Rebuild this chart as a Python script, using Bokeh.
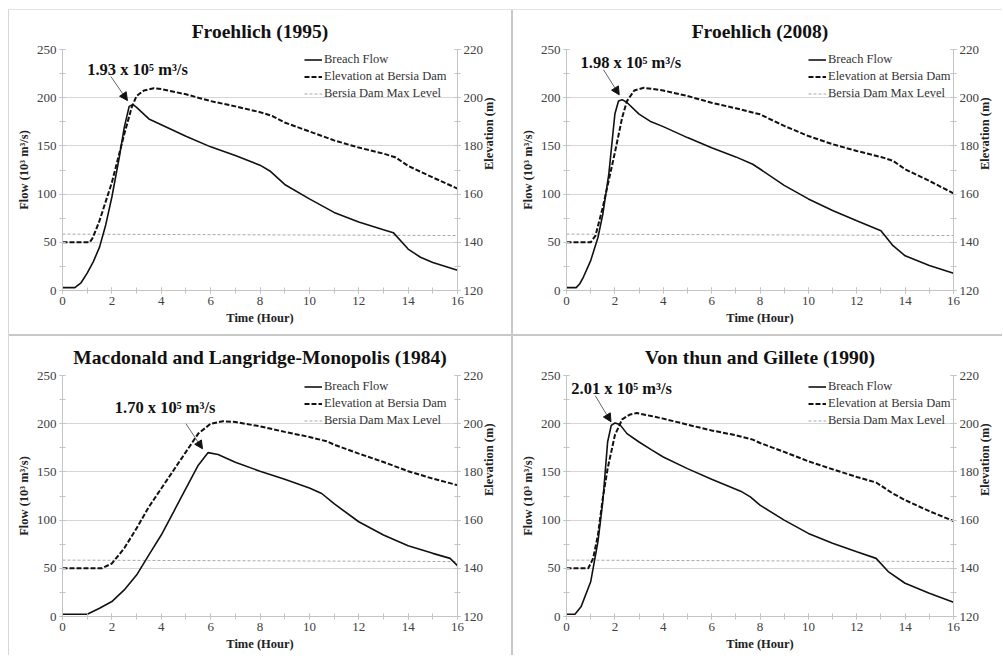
import math
from bokeh.plotting import figure
from bokeh.models import (Range1d, LinearAxis, SingleIntervalTicker, Label, Arrow,
                          NormalHead, Legend, LegendItem, Spacer)
from bokeh.layouts import row, column
from bokeh.embed import file_html
from bokeh.resources import INLINE

# ---------------- data ----------------
TITLES = ["Froehlich (1995)", "Froehlich (2008)",
          "Macdonald and Langridge-Monopolis (1984)", "Von thun and Gillete (1990)"]
PEAK_TEXT = ["1.93 x 10\u2075 m\u00b3/s", "1.98 x 10\u2075 m\u00b3/s",
             "1.70 x 10\u2075 m\u00b3/s", "2.01 x 10\u2075 m\u00b3/s"]

T_FLOW_1 = [0, 0.5, 0.75, 1.0, 1.25, 1.5, 1.75, 2.0, 2.3, 2.5, 2.7, 2.85, 3.0, 3.5, 4, 5, 6, 7, 8, 8.4, 9, 10, 11, 12, 13, 13.4, 14, 14.5, 15, 16]
FLOW_1 = [3, 3, 8, 18, 30, 45, 68, 97, 138, 169, 191, 193, 190, 178, 172, 160, 149, 140, 130, 124, 110, 95, 81, 71, 63, 60, 43, 34.5, 29, 21]
T_ELEV_1 = [0, 1.1, 1.2, 1.35, 1.5, 2.0, 2.5, 2.8, 3.0, 3.3, 3.7, 4, 5, 6, 7, 8, 8.5, 9, 10, 11, 12, 13, 13.5, 14, 15, 16]
ELEV_1 = [140, 140, 141.4, 145, 149, 164.8, 184.8, 195.9, 200.7, 203, 203.9, 203.6, 201.4, 198.6, 196.4, 194, 192.4, 189.7, 186, 182.3, 179.3, 176.8, 175.2, 171.7, 166.9, 162.3]

T_FLOW_2 = [0, 0.4, 0.55, 0.7, 1.0, 1.3, 1.5, 1.75, 2.0, 2.15, 2.3, 2.5, 3, 3.5, 4, 5, 6, 7, 7.7, 8, 9, 10, 11, 12, 13, 13.5, 14, 15, 16]
FLOW_2 = [3, 3, 7, 14, 31, 55, 79, 121, 183, 196.6, 198, 195, 183, 175, 170, 158.6, 148, 138.6, 131, 126, 109, 95, 83, 72.4, 62, 46.5, 36, 26, 18]
T_ELEV_2 = [0, 1.0, 1.2, 1.5, 2.0, 2.3, 2.5, 2.8, 3.2, 4, 5, 6, 7, 8, 9, 10, 11, 12, 13, 13.5, 14, 15, 16]
ELEV_2 = [140, 140, 142.8, 154.5, 177.2, 191.7, 198.6, 203, 204.1, 203, 200.7, 197.9, 195.6, 193.1, 188.3, 184.1, 180.7, 177.9, 175.4, 173.8, 170.3, 165.5, 160.3]

T_FLOW_3 = [0, 1.0, 1.5, 2, 2.5, 3, 3.5, 4, 4.5, 5, 5.5, 5.9, 6.3, 7, 8, 9, 10, 10.5, 11, 12, 13, 14, 15, 15.7, 16]
FLOW_3 = [2.4, 2.4, 8.6, 15.5, 27.6, 43, 64, 84.5, 108.6, 132.8, 157, 170, 168, 160, 150.7, 142.4, 133.4, 127.6, 117, 98.3, 84.5, 73.4, 65.5, 60.3, 52.8]
T_ELEV_3 = [0, 1.6, 2, 2.5, 3, 3.5, 4, 4.5, 5, 5.5, 6, 6.5, 7, 8, 9, 10, 10.7, 11, 12, 13, 14, 15, 16]
ELEV_3 = [140, 140, 142, 148.3, 156.6, 165.5, 173.1, 180.7, 188.3, 195.9, 200, 201, 200.7, 198.9, 196.6, 194.5, 192.7, 191.3, 187.6, 184.1, 180.3, 177.2, 174.5]

T_FLOW_4 = [0, 0.35, 0.6, 1.0, 1.3, 1.5, 1.7, 1.85, 2.0, 2.2, 2.5, 3, 3.5, 4, 5, 6, 7.2, 7.6, 8, 9, 10, 11, 12, 12.8, 13.3, 14, 15, 16]
FLOW_4 = [2.4, 2.4, 10, 36, 77.6, 119, 181, 198.3, 200.7, 199.3, 189.7, 181, 173.1, 165.5, 153.4, 142.4, 130, 124.1, 115.5, 100, 86.2, 75.9, 67.2, 60.3, 46.6, 34.5, 24.1, 14.8]
T_ELEV_4 = [0, 0.9, 1.1, 1.3, 1.5, 1.7, 2.0, 2.3, 2.6, 2.9, 3.5, 4, 5, 6, 7, 7.7, 8, 9, 10, 11, 12, 12.8, 13.5, 14, 15, 16]
ELEV_4 = [140, 140, 144.1, 153.8, 169, 181.4, 195.2, 201.8, 203.7, 204.4, 203.2, 202.1, 199.6, 197.2, 195.2, 193.4, 192, 188.3, 184.4, 181.1, 177.9, 175.6, 171, 168.3, 163.7, 159.6]

T_MAX = [0, 16]
MAX_LEVEL = [143.4, 142.8]

LEGEND_LABELS = ["Breach Flow", "Elevation at Bersia Dam", "Bersia Dam Max Level"]

FONT = "Liberation Serif"
AX_COLOR = "#c4c4c4"


def style_axis(ax, label):
    ax.axis_label = label
    ax.axis_label_text_font = FONT
    ax.axis_label_text_font_style = "bold"
    ax.axis_label_text_font_size = "12.5px"
    ax.axis_label_text_color = "#222222"
    ax.axis_label_standoff = 3
    ax.major_label_text_font = FONT
    ax.major_label_text_font_size = "13px"
    ax.major_label_text_color = "#404040"
    ax.major_label_standoff = 3
    ax.axis_line_color = AX_COLOR
    ax.major_tick_line_color = AX_COLOR
    ax.minor_tick_line_color = AX_COLOR
    ax.major_tick_in = 3
    ax.major_tick_out = 3
    ax.minor_tick_in = 3
    ax.minor_tick_out = 3


def panel(title, tf, fl, te, el, note, note_xy, arr, w, h, borders):
    bl, br, bt, bb = borders
    p = figure(width=w, height=h, x_range=Range1d(0, 16), y_range=Range1d(0, 250),
               output_backend="svg", toolbar_location=None,
               min_border_left=bl, min_border_right=br, min_border_top=bt, min_border_bottom=bb)
    p.extra_y_ranges = {"elev": Range1d(120, 220)}
    p.outline_line_color = None
    p.background_fill_color = "white"
    p.border_fill_color = "white"
    p.title.text = title
    p.title.text_font = FONT
    p.title.text_font_style = "bold"
    p.title.text_font_size = "19.5px"
    p.title.text_color = "#111111"
    p.title.align = "center"
    p.title.standoff = 16

    p.xgrid.visible = False
    p.ygrid.grid_line_color = "#d6d6d6"
    p.ygrid.grid_line_width = 1

    p.xaxis.ticker = SingleIntervalTicker(interval=2, num_minor_ticks=2)
    p.yaxis.ticker = SingleIntervalTicker(interval=50, num_minor_ticks=2)
    style_axis(p.xaxis[0], "Time (Hour)")
    style_axis(p.yaxis[0], "Flow (10\u00b3 m\u00b3/s)")

    rax = LinearAxis(y_range_name="elev", ticker=SingleIntervalTicker(interval=20, num_minor_ticks=2))
    style_axis(rax, "Elevation (m)")
    rax.axis_label_orientation = math.pi / 2
    p.add_layout(rax, "right")

    r_max = p.line(T_MAX, MAX_LEVEL, y_range_name="elev", line_color="#a8a8a8",
                   line_width=1, line_dash="3 2")
    r_el = p.line(te, el, y_range_name="elev", line_color="#111111", line_width=2,
                  line_dash="5 2")
    r_fl = p.line(tf, fl, line_color="#111111", line_width=1.6)

    frame_h = h - bt - bb
    leg_h = 3 * 17 + 4
    leg = Legend(items=[LegendItem(label=LEGEND_LABELS[0], renderers=[r_fl]),
                        LegendItem(label=LEGEND_LABELS[1], renderers=[r_el]),
                        LegendItem(label=LEGEND_LABELS[2], renderers=[r_max])],
                 location=(242, frame_h - leg_h + 1))
    leg.background_fill_alpha = 0
    leg.border_line_color = None
    leg.label_text_font = FONT
    leg.label_text_font_size = "12.5px"
    leg.label_text_color = "#333333"
    leg.glyph_width = 18
    leg.glyph_height = 17
    leg.label_height = 17
    leg.label_standoff = 2
    leg.spacing = 0
    leg.padding = 2
    leg.margin = 0
    p.add_layout(leg)

    p.add_layout(Label(x=note_xy[0], y=note_xy[1], text=note, text_font=FONT,
                       text_font_style="bold", text_font_size="16.5px", text_color="#111111",
                       text_align="left", text_baseline="middle"))
    p.add_layout(Arrow(x_start=arr[0], y_start=arr[1], x_end=arr[2], y_end=arr[3],
                       line_color="#666666", line_width=1,
                       end=NormalHead(size=8, fill_color="#111111", line_color="#111111")))
    return p


W_L, W_R = 502, 489
H_T, H_B = 324, 319
p1 = panel(TITLES[0], T_FLOW_1, FLOW_1, T_ELEV_1, ELEV_1, PEAK_TEXT[0], (1.0, 229),
           (1.96, 222, 2.63, 197), W_L, H_T, (53, 54, 38, 44))
p2 = panel(TITLES[1], T_FLOW_2, FLOW_2, T_ELEV_2, ELEV_2, PEAK_TEXT[1], (0.58, 236),
           (1.53, 229, 2.18, 203), W_R, H_T, (53, 40, 38, 44))
p3 = panel(TITLES[2], T_FLOW_3, FLOW_3, T_ELEV_3, ELEV_3, PEAK_TEXT[2], (2.12, 216.5),
           (5.0, 200, 5.67, 174), W_L, H_B, (53, 54, 39, 39))
p4 = panel(TITLES[3], T_FLOW_4, FLOW_4, T_ELEV_4, ELEV_4, PEAK_TEXT[3], (0.2, 236),
           (1.19, 229, 1.84, 202), W_R, H_B, (53, 40, 39, 39))

div_style = {"background-color": "#c8c8c8"}
faint_style = {"background-color": "#e4e4e4"}
H_MAIN = H_T + 2 + H_B
top_line = row(Spacer(width=8, height=1), Spacer(width=994, height=1, styles=faint_style))
h1 = Spacer(width=W_L, height=2, styles=div_style)
h2 = Spacer(width=W_R, height=2, styles=div_style)
v_left = Spacer(width=1, height=H_MAIN, styles={"background-color": "#d6d6d6"})
v_mid = Spacer(width=2, height=H_MAIN, styles=div_style)

main = row(Spacer(width=8, height=H_MAIN), v_left, column(p1, h1, p3), v_mid, column(p2, h2, p4))
layout = column(Spacer(width=1002, height=9), top_line, main)

open("out.html", "w").write(file_html(layout, INLINE))
